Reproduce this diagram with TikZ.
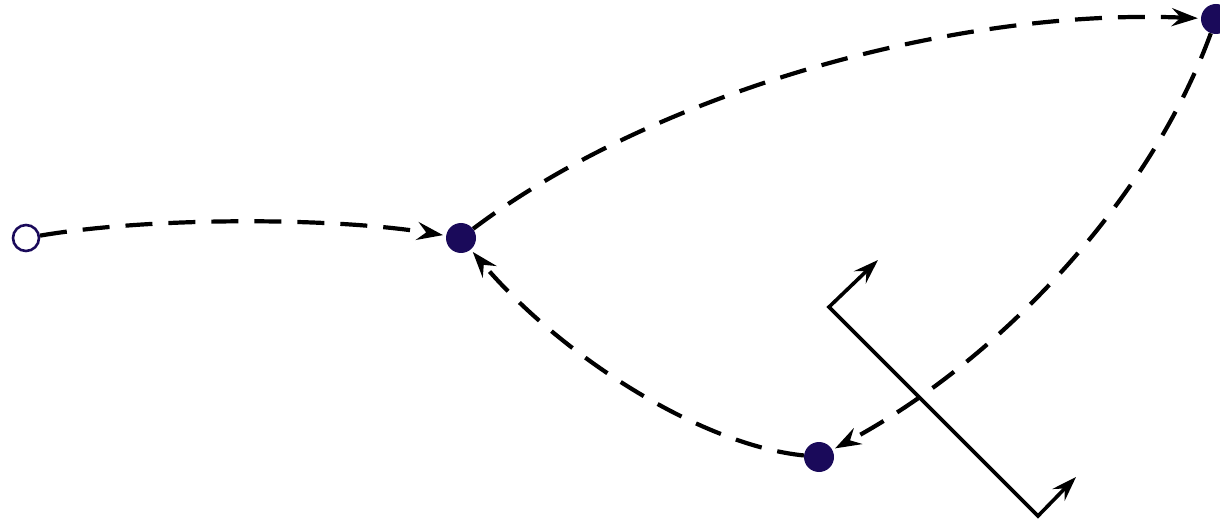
\documentclass[tikz,border=0pt]{standalone}
\usetikzlibrary{arrows.meta}
\definecolor{navy}{RGB}{26,10,90}
\begin{document}
\begin{tikzpicture}[x=1pt,y=-1pt,
  dot/.style={circle,fill=navy,minimum size=30pt,inner sep=0pt},
  opendot/.style={circle,draw=navy,line width=2.6pt,fill=white,minimum size=26pt,inner sep=0pt},
  flow/.style={line width=4.2pt,dash pattern=on 27pt off 16pt,-{Stealth[length=26pt,width=18pt,inset=9pt]},shorten >=3pt},
  zig/.style={line width=3.6pt,{Stealth[length=25pt,width=17pt,inset=9pt]}-{Stealth[length=25pt,width=17pt,inset=9pt]}}]
\useasboundingbox (0,0) rectangle (1220,521);
\node[opendot] (s) at (26,238) {};
\node[dot] (a) at (461,238) {};
\node[dot] (b) at (1216,19) {};
\node[dot] (c) at (819,457) {};
\coordinate (z1) at (878,260);
\coordinate (z2) at (829,307);
\coordinate (z3) at (1038,516);
\coordinate (z4) at (1076,477);
\draw[flow] (s) .. controls (150,217) and (330,217) .. (a);
\draw[flow] (a) .. controls (650,95) and (950,8) .. (b);
\draw[flow] (b) .. controls (1150,200) and (1000,360) .. (c);
\draw[flow] (c) .. controls (700,445) and (560,355) .. (a);
\draw[zig] (z1) -- (z2) -- (z3) -- (z4);
\end{tikzpicture}
\end{document}
